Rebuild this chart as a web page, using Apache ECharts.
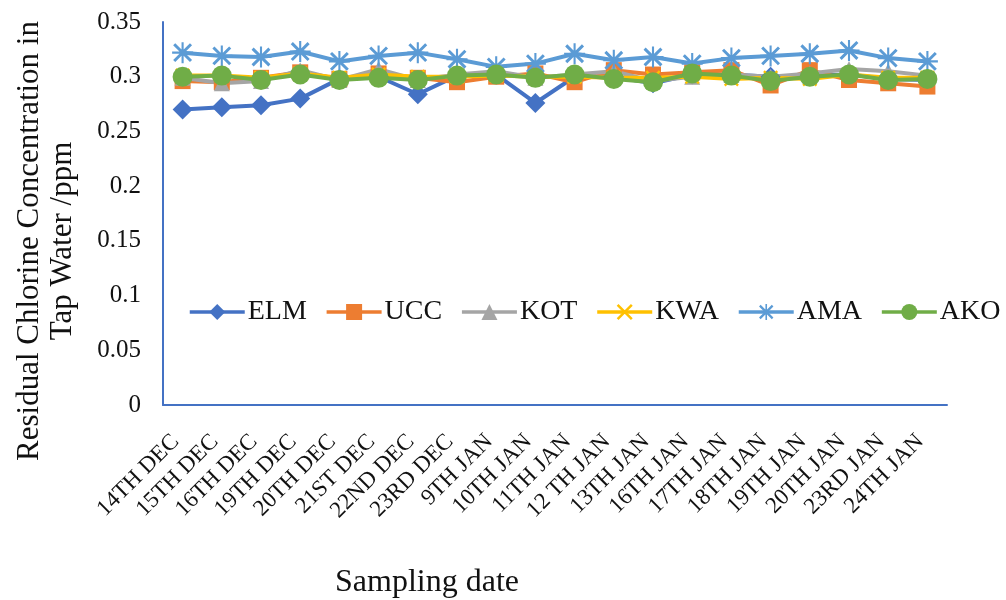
<!DOCTYPE html>
<html>
<head>
<meta charset="utf-8">
<script src="https://cdn.jsdelivr.net/npm/echarts@6/dist/echarts.min.js"></script>
<style>
html, body { margin: 0; padding: 0; background: #fff; }
#chart { width: 1006px; height: 600px; }
</style>
</head>
<body>
<div id="chart"></div>
<script>
// Sampling dates
const dates = ['14TH DEC', '15TH DEC', '16TH DEC', '19TH DEC', '20TH DEC', '21ST DEC', '22ND DEC', '23RD DEC',
  '9TH JAN', '10TH JAN', '11TH JAN', '12 TH JAN', '13TH JAN', '16TH JAN', '17TH JAN', '18TH JAN',
  '19TH JAN', '20TH JAN', '23RD JAN', '24TH JAN'];

// Residual chlorine (ppm) per sampling site
const ELM = [0.270, 0.272, 0.274, 0.280, 0.298, 0.300, 0.284, 0.301, 0.302, 0.276, 0.300, 0.300, 0.294, 0.302, 0.302, 0.300, 0.301, 0.302, 0.298, 0.297];
const UCC = [0.296, 0.295, 0.299, 0.304, 0.298, 0.303, 0.299, 0.295, 0.300, 0.303, 0.295, 0.306, 0.302, 0.304, 0.306, 0.292, 0.306, 0.297, 0.294, 0.291];
const KOT = [0.299, 0.294, 0.296, 0.306, 0.297, 0.307, 0.297, 0.302, 0.305, 0.299, 0.302, 0.305, 0.296, 0.300, 0.302, 0.300, 0.303, 0.307, 0.305, 0.301];
const KWA = [0.301, 0.301, 0.299, 0.303, 0.299, 0.302, 0.300, 0.300, 0.301, 0.300, 0.300, 0.299, 0.299, 0.300, 0.298, 0.299, 0.298, 0.302, 0.299, 0.299];
const AMA = [0.322, 0.319, 0.318, 0.323, 0.314, 0.319, 0.322, 0.316, 0.309, 0.312, 0.321, 0.315, 0.318, 0.312, 0.317, 0.319, 0.321, 0.324, 0.317, 0.314];
const AKO = [0.300, 0.301, 0.297, 0.302, 0.297, 0.299, 0.297, 0.301, 0.302, 0.299, 0.302, 0.298, 0.295, 0.303, 0.301, 0.296, 0.300, 0.302, 0.297, 0.298];

const yTicks = { min: 0, max: 0.35, interval: 0.05 };

const FONT = 'Liberation Serif';

// Stroke-like marker shapes built from thin filled bars
const crossPath = 'path://M1,3L3,1L19,17L17,19Z M17,1L19,3L3,19L1,17Z';
const starPath = 'path://M9,0L11,0L11,20L9,20Z M0,9L20,9L20,11L0,11Z M1,3L3,1L19,17L17,19Z M17,1L19,3L3,19L1,17Z';

function lineSeries(name, data, color, symbol, size) {
  return {
    name, type: 'line', data,
    symbol, symbolSize: size,
    showAllSymbol: true,
    lineStyle: { color, width: 4 },
    itemStyle: { color, borderWidth: 0 },
    emphasis: { disabled: true },
    animation: false
  };
}

const chart = echarts.init(document.getElementById('chart'), null, { renderer: 'canvas' });
chart.setOption({
  backgroundColor: '#ffffff',
  animation: false,
  grid: { left: 163, right: 59, top: 22, bottom: 195, containLabel: false },
  legend: {
    left: 183, top: 293, width: 840,
    itemWidth: 55, itemHeight: 20, itemGap: 18,
    lineStyle: { width: 3.5 },
    textStyle: { fontFamily: FONT, fontSize: 28, color: '#111', padding: [0, 0, 0, -2] },
    data: ['ELM', 'UCC', 'KOT', 'KWA', 'AMA', 'AKO']
  },
  xAxis: {
    type: 'category', data: dates, boundaryGap: true,
    axisLine: { lineStyle: { color: '#4472C4', width: 2 } },
    axisTick: { show: false },
    axisLabel: {
      rotate: 45, interval: 0, margin: 26, padding: [0, 10, 0, 0],
      fontFamily: FONT, fontSize: 23, color: '#111'
    }
  },
  yAxis: {
    type: 'value', min: yTicks.min, max: yTicks.max, interval: yTicks.interval,
    axisLine: { show: true, lineStyle: { color: '#4472C4', width: 2 } },
    axisTick: { show: false },
    splitLine: { show: false },
    axisLabel: { margin: 22, fontFamily: FONT, fontSize: 25, color: '#111' }
  },
  graphic: [
    {
      type: 'text', x: 46, y: 241, rotation: Math.PI / 2,
      style: {
        text: 'Residual Chlorine Concentration in\nTap Water /ppm',
        font: '31px "Liberation Serif"', fill: '#111',
        align: 'center', verticalAlign: 'middle', lineHeight: 33
      }
    },
    {
      type: 'text', x: 427, y: 583,
      style: {
        text: 'Sampling date', font: '32px "Liberation Serif"', fill: '#111',
        align: 'center', verticalAlign: 'middle'
      }
    }
  ],
  series: [
    lineSeries('ELM', ELM, '#4472C4', 'diamond', 20),
    lineSeries('UCC', UCC, '#ED7D31', 'rect', 16),
    lineSeries('KOT', KOT, '#A5A5A5', 'triangle', 16),
    lineSeries('KWA', KWA, '#FFC000', crossPath, 15),
    lineSeries('AMA', AMA, '#5B9BD5', starPath, 21),
    lineSeries('AKO', AKO, '#70AD47', 'circle', 20)
  ]
});
</script>
</body>
</html>
